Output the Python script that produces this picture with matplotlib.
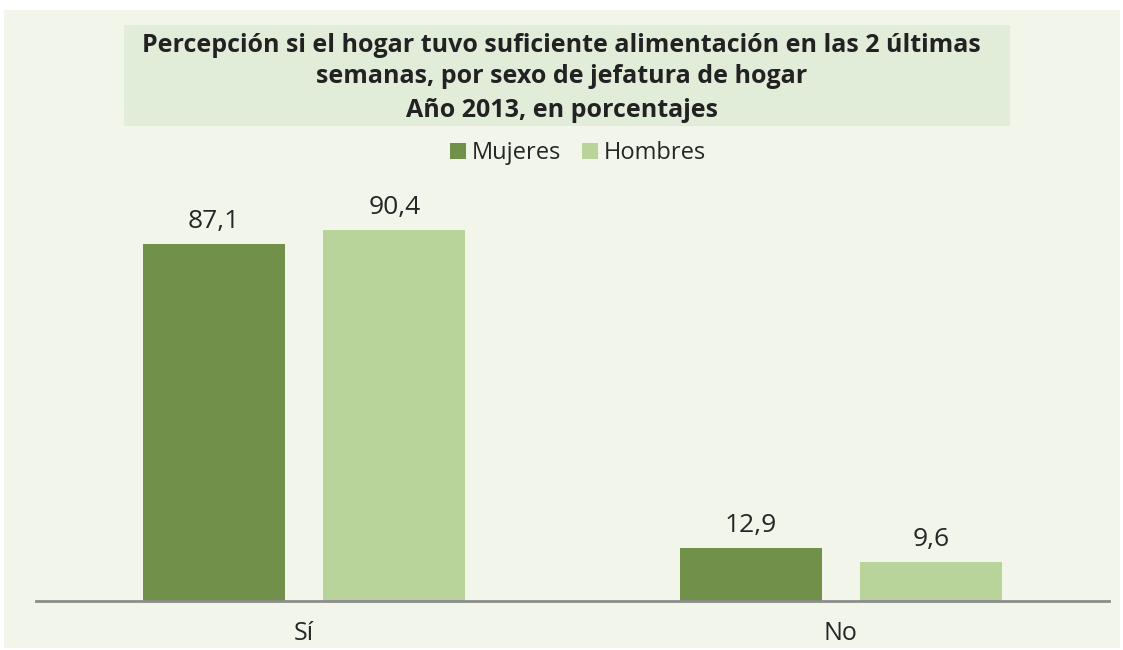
import numpy as np
import matplotlib.pyplot as plt
from matplotlib.patches import Rectangle

categorias = ['Sí', 'No']
mujeres = [87.1, 12.9]
hombres = [90.4, 9.6]
series = ['Mujeres', 'Hombres']

titulo = ['Percepción si el hogar tuvo suficiente alimentación en las 2 últimas',
          'semanas, por sexo de jefatura de hogar',
          'Año 2013, en porcentajes']

c_muj = '#71914A'
c_hom = '#B8D49B'
fondo = '#F2F6EA'
H = 650

plt.rcParams['font.family'] = ['Open Sans', 'DejaVu Sans']

fig = plt.figure(figsize=(11.23, 6.5), dpi=100)
fig.patch.set_facecolor('white')
# panel de fondo
fig.patches.append(Rectangle((4/1123, 2/H), 1116/1123, 638/H, transform=fig.transFigure,
                             facecolor=fondo, edgecolor='none', zorder=0))
# caja del titulo
fig.patches.append(Rectangle((124/1123, 1 - 126/H), 886/1123, 101/H, transform=fig.transFigure,
                             facecolor='#E2EDD9', edgecolor='none', zorder=1))
for linea, yb in zip(titulo, [52, 83, 117]):
    fig.text(0.5, 1 - yb/H, linea, ha='center', va='baseline', fontsize=18, fontweight='bold',
             color='#222222', zorder=2)

ax = fig.add_axes([36/1123, 49/H, 1073/1123, 410/H])
ax.set_zorder(5)
ax.set_facecolor('none')
x = np.arange(len(categorias))
w = 0.265
off = 0.168
b1 = ax.bar(x - off, mujeres, w, color=c_muj, label=series[0], zorder=2)
b2 = ax.bar(x + off, hombres, w, color=c_hom, label=series[1], zorder=2)
for bars in (b1, b2):
    for r in bars:
        v = r.get_height()
        ax.annotate(f'{v:.1f}'.replace('.', ','), (r.get_x() + r.get_width()/2, v),
                    xytext=(0, 11.5), textcoords='offset points',
                    ha='center', va='baseline', fontsize=19, color='#262626')

ax.set_xlim(-0.5, 1.5)
ax.set_ylim(0, 100)
ax.set_yticks([])
ax.set_xticks(x)
ax.set_xticklabels(categorias, fontsize=18, color='#262626')
ax.tick_params(axis='x', length=0, pad=14.5)
for s in ['top', 'right', 'left']:
    ax.spines[s].set_visible(False)
ax.spines['bottom'].set_color('#8C8C8C')
ax.spines['bottom'].set_linewidth(2)
ax.spines['bottom'].set_zorder(3)

leg = fig.legend(loc='center', bbox_to_anchor=(578/1123, 1 - 153/H), ncol=2, frameon=False,
                 fontsize=17, handlelength=0.65, handleheight=0.65, handletextpad=0.25,
                 columnspacing=0.9)
leg.set_zorder(6)
for t in leg.get_texts():
    t.set_color('#262626')

plt.savefig('out.png', dpi=100)
